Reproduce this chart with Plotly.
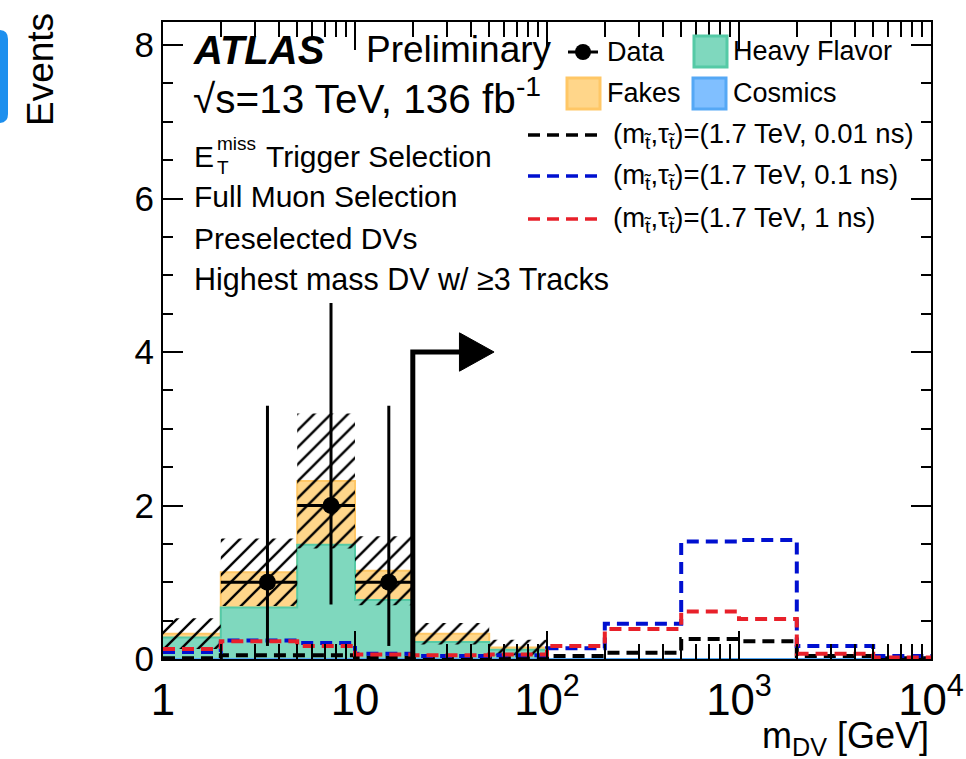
import plotly.graph_objects as go

# ---------------------------------------------------------------
# Histogram content: m_DV of the highest-mass DV with >= 3 tracks
# ---------------------------------------------------------------
bin_edges = [1, 2, 5, 10, 20, 50, 100, 200, 500, 1000, 2000, 5000, 10000]

heavy_flavor = [0.28, 0.67, 1.49, 0.77, 0.22, 0.12, 0.0, 0.0, 0.0, 0.0, 0.0, 0.0]
fakes = [0.05, 0.46, 0.83, 0.38, 0.11, 0.03, 0.0, 0.0, 0.0, 0.0, 0.0, 0.0]
cosmics = [0.0, 0.0, 0.0, 0.0, 0.0, 0.0, 0.0, 0.0, 0.0, 0.0, 0.0, 0.0]
bkg_uncertainty = [0.20, 0.44, 0.88, 0.45, 0.14, 0.10, 0.0, 0.0, 0.0, 0.0, 0.0, 0.0]

data_counts = [0, 1, 2, 1, 0, 0, 0, 0, 0, 0, 0, 0]
data_err_low = [0, 0.83, 1.29, 0.83, 0, 0, 0, 0, 0, 0, 0, 0]
data_err_high = [0, 2.30, 2.64, 2.30, 0, 0, 0, 0, 0, 0, 0, 0]

sig_001ns = [0.01, 0.05, 0.05, 0.02, 0.01, 0.01, 0.04, 0.08, 0.26, 0.23, 0.04, 0.01]
sig_01ns = [0.09, 0.24, 0.21, 0.07, 0.04, 0.05, 0.14, 0.46, 1.53, 1.55, 0.17, 0.04]
sig_1ns = [0.13, 0.23, 0.17, 0.06, 0.05, 0.06, 0.17, 0.39, 0.62, 0.52, 0.07, 0.02]

signal_labels = [
    "(m<sub>t\u0303</sub>,\u03c4<sub>t\u0303</sub>)=(1.7 TeV, 0.01 ns)",
    "(m<sub>t\u0303</sub>,\u03c4<sub>t\u0303</sub>)=(1.7 TeV, 0.1 ns)",
    "(m<sub>t\u0303</sub>,\u03c4<sub>t\u0303</sub>)=(1.7 TeV, 1 ns)",
]

# signal-region cut on m_DV and the arrow that marks it
cut_value = 20
arrow_level = 4.0
arrow_head_x = [35, 53]
arrow_head_half = 0.25

x_tick_vals = [1, 10, 100, 1000, 10000]
x_tick_text = ["1", "10", "10<sup>2</sup>", "10<sup>3</sup>", "10<sup>4</sup>"]
y_tick_step = 2
y_minor_step = 0.5

# colours
C_HF, C_HF_LINE = "#7fd8be", "#55caa6"
C_FAKE, C_FAKE_LINE = "#ffd68a", "#ffc766"
C_COS, C_COS_LINE = "#80bfff", "#55a8f5"
C_SIG = ["#000000", "#0010d0", "#e8202a"]
FONT = "Liberation Sans, Arial, Helvetica, sans-serif"
DASH = "12px,7px"

# canvas geometry (pixels) for placing text and legend items
W, H = 966, 759
L, R, T, B = 163, 931, 22, 659


def px(x):
    return (x - L) / (R - L)


def py(y):
    return (B - y) / (B - T)


def step(vals):
    return bin_edges, list(vals) + [vals[-1]]


fig = go.Figure()

# stacked background: cosmics, heavy flavor, fakes
stack_cos = list(cosmics)
stack_hf = [c + h for c, h in zip(cosmics, heavy_flavor)]
stack_tot = [s + f for s, f in zip(stack_hf, fakes)]

for vals, fc, lc in [(stack_tot, C_FAKE, C_FAKE_LINE),
                     (stack_hf, C_HF, C_HF_LINE),
                     (stack_cos, C_COS, C_COS_LINE)]:
    xs, ys = step(vals)
    fig.add_trace(go.Scatter(x=xs, y=ys, mode="lines", line=dict(shape="hv", color=lc, width=2),
                             fill="tozeroy", fillcolor=fc, showlegend=False, hoverinfo="skip"))

# hatched background uncertainty
lo = [t - u for t, u in zip(stack_tot, bkg_uncertainty)]
hi = [t + u for t, u in zip(stack_tot, bkg_uncertainty)]
xs, ys = step(lo)
fig.add_trace(go.Scatter(x=xs, y=ys, mode="lines", line=dict(shape="hv", width=0),
                         showlegend=False, hoverinfo="skip"))
xs, ys = step(hi)
fig.add_trace(go.Scatter(x=xs, y=ys, mode="lines", line=dict(shape="hv", width=0),
                         fill="tonexty", fillcolor="rgba(0,0,0,0)",
                         fillpattern=dict(shape="/", fgcolor="black", fgopacity=1,
                                          bgcolor="rgba(0,0,0,0)", size=12, solidity=0.2),
                         showlegend=False, hoverinfo="skip"))

# signal histograms
for vals, col in zip([sig_001ns, sig_01ns, sig_1ns], C_SIG):
    xs, ys = step(vals)
    fig.add_trace(go.Scatter(x=xs, y=ys, mode="lines",
                             line=dict(shape="hv", color=col, width=4, dash=DASH),
                             showlegend=False, hoverinfo="skip"))

# data points (bin centres, Poisson errors)
dx, dy, dlo, dhi, exl, exh = [], [], [], [], [], []
for i, n in enumerate(data_counts):
    if n > 0:
        c = 0.5 * (bin_edges[i] + bin_edges[i + 1])
        dx.append(c)
        dy.append(n)
        dlo.append(data_err_low[i])
        dhi.append(data_err_high[i])
        exl.append(c - bin_edges[i])
        exh.append(bin_edges[i + 1] - c)
fig.add_trace(go.Scatter(
    x=dx, y=dy, mode="markers",
    marker=dict(color="black", size=17),
    error_y=dict(type="data", symmetric=False, array=dhi, arrayminus=dlo,
                 color="black", thickness=3, width=0),
    error_x=dict(type="data", symmetric=False, array=exh, arrayminus=exl,
                 color="black", thickness=3, width=0),
    showlegend=False, hoverinfo="skip"))

# cut arrow
fig.add_trace(go.Scatter(x=[cut_value, cut_value, arrow_head_x[0]], y=[0, arrow_level, arrow_level],
                         mode="lines", line=dict(color="black", width=5),
                         showlegend=False, hoverinfo="skip"))
fig.add_trace(go.Scatter(x=[arrow_head_x[0], arrow_head_x[1], arrow_head_x[0], arrow_head_x[0]],
                         y=[arrow_level + arrow_head_half, arrow_level,
                            arrow_level - arrow_head_half, arrow_level + arrow_head_half],
                         mode="lines", fill="toself", fillcolor="black",
                         line=dict(color="black", width=1),
                         showlegend=False, hoverinfo="skip"))

annotations = []
shapes = []


def text(s, x, y, size, anchor="left", **kw):
    annotations.append(dict(text=s, x=px(x), y=py(y), xref="paper", yref="paper",
                            xanchor=anchor, yanchor="middle", showarrow=False,
                            font=dict(size=size, color="black", family=FONT), **kw))


# labels
text("<b><i>ATLAS</i></b>", 191, 50, 40)
text("Preliminary", 364, 50, 37)
text("\u221as=13 TeV, 136 fb<sup>-1</sup>", 191, 96, 40.5)
text("E", 192, 156, 30)
text("miss", 215, 143, 19)
text("T", 215, 167, 19)
text("Trigger Selection", 264, 156, 30)
text("Full Muon Selection", 192, 196, 30)
text("Preselected DVs", 192, 238, 30)
text("Highest mass DV w/ \u22653 Tracks", 192, 279, 30.5)

# legend
shapes.append(dict(type="line", xref="paper", yref="paper", x0=px(568), x1=px(598),
                   y0=py(52), y1=py(52), line=dict(color="black", width=3), layer="above"))
shapes.append(dict(type="circle", xref="paper", yref="paper", x0=px(575), x1=px(591),
                   y0=py(60), y1=py(44), fillcolor="black", line=dict(color="black", width=0),
                   layer="above"))
text("Data", 605, 52, 27)
for (x0, y0), fc, lc, lab, tx in [((694, 36), C_HF, C_HF_LINE, "Heavy Flavor", 731),
                                  ((567, 78), C_FAKE, C_FAKE_LINE, "Fakes", 605),
                                  ((693, 78), C_COS, C_COS_LINE, "Cosmics", 731)]:
    shapes.append(dict(type="rect", xref="paper", yref="paper", x0=px(x0), x1=px(x0 + 33),
                       y0=py(y0), y1=py(y0 + 31), fillcolor=fc, line=dict(color=lc, width=3),
                       layer="above"))
    text(lab, tx, y0 + 15, 27)
for yl, col, lab in zip([135, 176, 219], C_SIG, signal_labels):
    shapes.append(dict(type="line", xref="paper", yref="paper", x0=px(528), x1=px(597),
                       y0=py(yl), y1=py(yl), line=dict(color=col, width=3.5, dash=DASH),
                       layer="above"))
    text(lab, 611, yl, 27.5)

# axis titles
text("Events", 40, 70, 37, anchor="center", textangle=-90)
text("m<sub>DV</sub> [GeV]", 931, 738, 36, anchor="right")

# blue tab at the left edge
r = 9
x0, x1, yt, yb = -10, 8, 30, 123
shapes.append(dict(
    type="path", xref="paper", yref="paper", layer="above",
    path=(f"M {px(x0)},{py(yt)} L {px(x1 - r)},{py(yt)} Q {px(x1)},{py(yt)} {px(x1)},{py(yt + r)} "
          f"L {px(x1)},{py(yb - r)} Q {px(x1)},{py(yb)} {px(x1 - r)},{py(yb)} L {px(x0)},{py(yb)} Z"),
    fillcolor="#1d8fee", line=dict(width=0)))

axis_common = dict(showline=True, linewidth=2, linecolor="black", mirror="ticks",
                   ticks="inside", tickwidth=2, tickcolor="black", showgrid=False,
                   zeroline=False, automargin=False,
                   tickfont=dict(size=35, color="black", family=FONT))

fig.update_layout(
    width=W, height=H,
    margin=dict(l=L, r=W - R, t=T, b=H - B),
    paper_bgcolor="white", plot_bgcolor="white",
    font=dict(family=FONT, color="black"),
    showlegend=False,
    annotations=annotations, shapes=shapes,
    xaxis=dict(type="log", range=[0, 4], tickmode="linear", tick0=0, dtick=1,
               labelalias={str(v): t for v, t in zip(x_tick_vals, x_tick_text)},
               exponentformat="power", ticklen=28, ticklabelstandoff=3,
               minor=dict(dtick="D1", ticks="inside", ticklen=15, tickwidth=2,
                          tickcolor="black", showgrid=False),
               **axis_common),
    yaxis=dict(range=[0, 8.3], tickmode="linear", tick0=0, dtick=y_tick_step, ticklen=20,
               minor=dict(dtick=y_minor_step, ticks="inside", ticklen=10, tickwidth=2,
                          tickcolor="black", showgrid=False),
               **axis_common),
)

fig.write_html("out.html")
